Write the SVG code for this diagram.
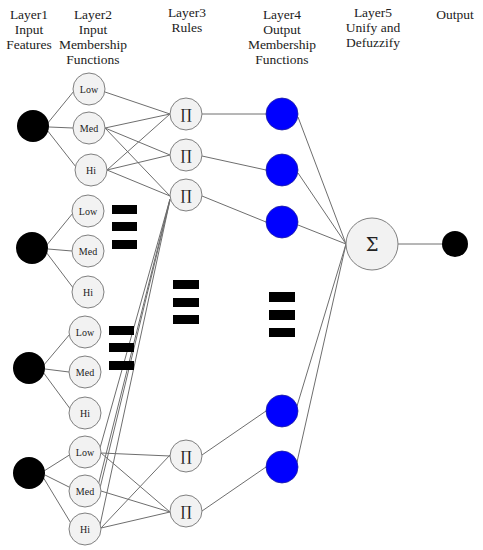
<svg xmlns="http://www.w3.org/2000/svg" width="483" height="550" viewBox="0 0 483 550">
<style>
.hdr{font-family:"Liberation Serif","DejaVu Serif",serif;font-size:13.5px;fill:#222;text-anchor:middle}
.lbl{font-family:"Liberation Serif","DejaVu Serif",serif;font-size:10px;fill:#222;text-anchor:middle}
.sym{font-family:"DejaVu Serif","Liberation Serif",serif;font-size:14px;fill:#222;text-anchor:middle}
.in{fill:#000}
.mf{fill:#f2f2f2;stroke:#808080;stroke-width:1}
.rule{fill:#f2f2f2;stroke:#808080;stroke-width:1}
.out{fill:#0000ff;stroke:#2020a0;stroke-width:0.8}
.bar{fill:#000}
#edges line{stroke:#6e6e6e;stroke-width:1}
</style>
<rect width="483" height="550" fill="#fff"/>
<g id="headers">
<text class="hdr" x="29" y="19">Layer1</text>
<text class="hdr" x="29" y="34">Input</text>
<text class="hdr" x="29" y="49">Features</text>
<text class="hdr" x="93" y="19">Layer2</text>
<text class="hdr" x="93" y="34">Input</text>
<text class="hdr" x="93" y="49">Membership</text>
<text class="hdr" x="93" y="64">Functions</text>
<text class="hdr" x="187" y="17">Layer3</text>
<text class="hdr" x="187" y="32">Rules</text>
<text class="hdr" x="282" y="19">Layer4</text>
<text class="hdr" x="282" y="34">Output</text>
<text class="hdr" x="282" y="49">Membership</text>
<text class="hdr" x="282" y="64">Functions</text>
<text class="hdr" x="373" y="17">Layer5</text>
<text class="hdr" x="373" y="32">Unify and</text>
<text class="hdr" x="373" y="47">Defuzzify</text>
<text class="hdr" x="455" y="19">Output</text>
</g>
<g id="edges">
<line x1="47" y1="124" x2="74" y2="91"/>
<line x1="49" y1="127" x2="73" y2="128"/>
<line x1="47" y1="130" x2="76" y2="167"/>
<line x1="46" y1="246" x2="73" y2="213"/>
<line x1="48" y1="249" x2="72" y2="251"/>
<line x1="46" y1="252" x2="74" y2="289"/>
<line x1="43" y1="366" x2="70" y2="334"/>
<line x1="45" y1="369" x2="69" y2="372"/>
<line x1="43" y1="372" x2="71" y2="410"/>
<line x1="44" y1="471" x2="71" y2="454"/>
<line x1="45" y1="475" x2="71" y2="488"/>
<line x1="43" y1="477" x2="72" y2="525"/>
<line x1="105" y1="92" x2="170" y2="114"/>
<line x1="105" y1="128" x2="170" y2="114"/>
<line x1="105" y1="128" x2="170" y2="155"/>
<line x1="105" y1="128" x2="170" y2="196"/>
<line x1="107" y1="170" x2="170" y2="114"/>
<line x1="107" y1="170" x2="170" y2="155"/>
<line x1="107" y1="170" x2="170" y2="196"/>
<line x1="100" y1="448" x2="170" y2="199"/>
<line x1="98" y1="486" x2="170" y2="199"/>
<line x1="100" y1="488" x2="170" y2="200"/>
<line x1="100" y1="525" x2="170" y2="200"/>
<line x1="101" y1="453" x2="170" y2="456"/>
<line x1="101" y1="453" x2="170" y2="512"/>
<line x1="101" y1="491" x2="170" y2="512"/>
<line x1="101" y1="528" x2="170" y2="455"/>
<line x1="101" y1="528" x2="170" y2="512"/>
<line x1="202" y1="114" x2="266" y2="114"/>
<line x1="202" y1="156" x2="266" y2="170"/>
<line x1="202" y1="196" x2="266" y2="222"/>
<line x1="202" y1="455" x2="266" y2="411"/>
<line x1="202" y1="511" x2="266" y2="467"/>
<line x1="298" y1="117" x2="346" y2="244"/>
<line x1="298" y1="173" x2="346" y2="244"/>
<line x1="298" y1="225" x2="346" y2="244"/>
<line x1="297" y1="406" x2="346" y2="244"/>
<line x1="297" y1="462" x2="346" y2="244"/>
<line x1="398" y1="244" x2="442" y2="244"/>
</g>
<g id="in1"><circle class="in" cx="33" cy="126" r="16"/></g>
<g id="in2"><circle class="in" cx="32" cy="248" r="16"/></g>
<g id="in3"><circle class="in" cx="29" cy="368" r="16"/></g>
<g id="in4"><circle class="in" cx="29" cy="473" r="16"/></g>
<g id="mf1low"><circle class="mf" cx="89" cy="89" r="16"/><text class="lbl" x="89" y="92.5">Low</text></g>
<g id="mf1med"><circle class="mf" cx="89" cy="128" r="16"/><text class="lbl" x="89" y="131.5">Med</text></g>
<g id="mf1hi"><circle class="mf" cx="91" cy="170" r="16"/><text class="lbl" x="91" y="173.5">Hi</text></g>
<g id="mf2low"><circle class="mf" cx="88" cy="211" r="16"/><text class="lbl" x="88" y="214.5">Low</text></g>
<g id="mf2med"><circle class="mf" cx="88" cy="251" r="16"/><text class="lbl" x="88" y="254.5">Med</text></g>
<g id="mf2hi"><circle class="mf" cx="88" cy="292" r="16"/><text class="lbl" x="88" y="295.5">Hi</text></g>
<g id="mf3low"><circle class="mf" cx="85" cy="332" r="16"/><text class="lbl" x="85" y="335.5">Low</text></g>
<g id="mf3med"><circle class="mf" cx="85" cy="372" r="16"/><text class="lbl" x="85" y="375.5">Med</text></g>
<g id="mf3hi"><circle class="mf" cx="85" cy="413" r="16"/><text class="lbl" x="85" y="416.5">Hi</text></g>
<g id="mf4low"><circle class="mf" cx="85" cy="452" r="16"/><text class="lbl" x="85" y="455.5">Low</text></g>
<g id="mf4med"><circle class="mf" cx="85" cy="491" r="16"/><text class="lbl" x="85" y="494.5">Med</text></g>
<g id="mf4hi"><circle class="mf" cx="85" cy="529" r="16"/><text class="lbl" x="85" y="532.5">Hi</text></g>
<g id="rule1"><circle class="rule" cx="186" cy="114" r="16"/><text class="sym" x="186" y="119">∏</text></g>
<g id="rule2"><circle class="rule" cx="186" cy="155" r="16"/><text class="sym" x="186" y="160">∏</text></g>
<g id="rule3"><circle class="rule" cx="186" cy="195" r="16"/><text class="sym" x="186" y="200">∏</text></g>
<g id="rule4"><circle class="rule" cx="186" cy="456" r="16"/><text class="sym" x="186" y="461">∏</text></g>
<g id="rule5"><circle class="rule" cx="186" cy="511" r="16"/><text class="sym" x="186" y="516">∏</text></g>
<g id="omf1"><circle class="out" cx="282" cy="114" r="16"/></g>
<g id="omf2"><circle class="out" cx="282" cy="170" r="16"/></g>
<g id="omf3"><circle class="out" cx="282" cy="222" r="16"/></g>
<g id="omf4"><circle class="out" cx="282" cy="411" r="16"/></g>
<g id="omf5"><circle class="out" cx="282" cy="467" r="16"/></g>
<g id="sum"><circle class="rule" cx="372" cy="244" r="26"/><text class="sym" x="372" y="250.5" style="font-size:18px">Σ</text></g>
<g id="output"><circle class="in" cx="455" cy="244" r="13"/></g>
<g id="ellipsis1"><rect class="bar" x="112" y="205" width="25" height="9"/><rect class="bar" x="112" y="222" width="25" height="9"/><rect class="bar" x="112" y="240" width="25" height="9"/></g>
<g id="ellipsis2"><rect class="bar" x="173" y="280" width="26" height="9"/><rect class="bar" x="173" y="298" width="26" height="9"/><rect class="bar" x="173" y="315" width="26" height="9"/></g>
<g id="ellipsis3"><rect class="bar" x="109" y="326" width="25" height="9"/><rect class="bar" x="109" y="343" width="25" height="9"/><rect class="bar" x="109" y="361" width="25" height="9"/></g>
<g id="ellipsis4"><rect class="bar" x="269" y="292" width="26" height="10"/><rect class="bar" x="269" y="310" width="26" height="10"/><rect class="bar" x="269" y="328" width="26" height="9"/></g>
</svg>
